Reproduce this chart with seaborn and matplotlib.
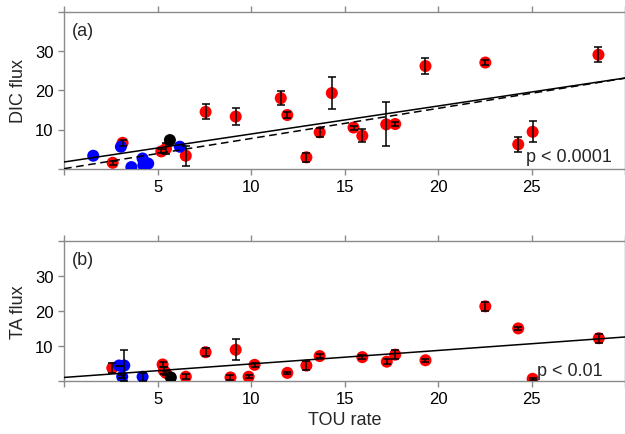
import numpy as np
import matplotlib
matplotlib.use("Agg")
import matplotlib.pyplot as plt
import seaborn as sns

# --- DATA ---
# panel (a): DIC flux vs TOU rate
dic_red_x = [2.6, 3.13, 5.2, 5.45, 6.51, 7.57, 9.18, 11.59, 11.94, 12.96, 13.67,
             14.32, 15.48, 15.95, 17.23, 17.71, 19.33, 22.53, 24.29, 25.06, 28.58]
dic_red_y = [1.5, 6.6, 4.4, 5.1, 3.3, 14.5, 13.3, 18.0, 13.7, 2.9, 9.3,
             19.3, 10.5, 8.4, 11.3, 11.4, 26.2, 27.1, 6.2, 9.4, 29.1]
dic_red_err = [0.5, 0.7, 0.5, 1.4, 2.5, 1.9, 2.2, 1.8, 0.7, 1.2, 1.2,
               4.1, 0.5, 1.7, 5.6, 0.5, 2.0, 0.6, 1.9, 2.7, 1.9]
dic_blue_x = [1.56, 3.04, 3.6, 4.2, 4.5, 4.24, 6.19]
dic_blue_y = [3.3, 5.6, 0.4, 2.6, 1.3, 0.9, 5.6]
dic_black_x = [5.66]
dic_black_y = [7.3]
dic_fit_solid = (1.7, 0.715)   # intercept, slope
dic_fit_dashed = (0.0, 0.77)

# panel (b): TA flux vs TOU rate
ta_red_x = [2.58, 5.27, 5.34, 5.45, 6.51, 7.57, 8.9, 9.18, 9.87, 10.19, 11.94,
            12.96, 13.67, 15.95, 17.26, 17.71, 19.33, 22.53, 24.29, 25.06, 28.6]
ta_red_y = [3.7, 4.7, 2.9, 2.3, 1.2, 8.2, 1.0, 8.9, 1.2, 4.6, 2.3,
            4.4, 7.1, 6.8, 5.5, 7.5, 5.9, 21.3, 15.0, 0.6, 12.2]
ta_red_err = [1.3, 0.8, 1.0, 0.5, 0.7, 1.2, 0.7, 3.0, 0.5, 0.5, 0.3,
              1.3, 0.5, 0.5, 0.8, 1.2, 0.4, 1.2, 0.5, 0.3, 1.3]
ta_blue_x = [2.94, 3.22, 3.11, 4.2]
ta_blue_y = [4.4, 4.4, 1.2, 1.2]
ta_blue_err = [0.0, 4.3, 0.5, 1.2]
ta_black_x = [5.71]
ta_black_y = [1.0]
ta_fit_solid = (1.0, 0.385)

x_ticks = [0, 5, 10, 15, 20, 25, 30]
x_ticklabels = ["", "5", "10", "15", "20", "25", ""]
y_ticks = [0, 10, 20, 30, 40]
y_ticklabels = ["", "10", "20", "30", ""]

sns.set_style("ticks")
plt.rcParams["font.family"] = ["Liberation Sans", "DejaVu Sans"]

GREY = "#8a8a8a"
MS = 75


def style_axis(ax):
    ax.set_xlim(0, 30)
    ax.set_ylim(0, 40)
    ax.set_xticks(x_ticks)
    ax.set_xticklabels(x_ticklabels)
    ax.set_yticks(y_ticks)
    ax.set_yticklabels(y_ticklabels)
    for side in ["top", "bottom", "left", "right"]:
        ax.spines[side].set_visible(True)
        ax.spines[side].set_color(GREY)
        ax.spines[side].set_linewidth(1.0)
    ax.tick_params(axis="both", direction="out", length=4.5, width=1.0,
                   color=GREY, labelsize=12, labelcolor="black", pad=3,
                   top=True, right=False)


def points(ax, x, y, color, err=None):
    sns.scatterplot(x=x, y=y, color=color, s=MS, edgecolor="none",
                    linewidth=0, ax=ax, zorder=3)
    if err is not None:
        ax.errorbar(x, y, yerr=err, fmt="none", ecolor="black",
                    elinewidth=1.1, capsize=3, capthick=1.1, zorder=4)


fig = plt.figure(figsize=(6.25, 4.35), dpi=100)
ax1 = fig.add_axes([0.1025, 0.610, 0.8975, 0.360])
ax2 = fig.add_axes([0.1025, 0.122, 0.8975, 0.322])

# (a)
points(ax1, dic_red_x, dic_red_y, "#ff0000", dic_red_err)
points(ax1, dic_blue_x, dic_blue_y, "#0000ff")
points(ax1, dic_black_x, dic_black_y, "black")
ax1.axline((0, dic_fit_solid[0]), slope=dic_fit_solid[1], color="black",
           lw=1.1, zorder=5)
ax1.axline((0, dic_fit_dashed[0]), slope=dic_fit_dashed[1], color="black",
           lw=1.1, ls=(0, (5, 3)), zorder=5)
style_axis(ax1)
ax1.set_ylabel("DIC flux", fontsize=13, labelpad=6)
ax1.text(0.014, 0.935, "(a)", transform=ax1.transAxes, fontsize=13,
         ha="left", va="top")
ax1.text(0.977, 0.05, "p < 0.0001", transform=ax1.transAxes, fontsize=13,
         ha="right", va="baseline")

# (b)
points(ax2, ta_red_x, ta_red_y, "#ff0000", ta_red_err)
points(ax2, ta_blue_x, ta_blue_y, "#0000ff", ta_blue_err)
points(ax2, ta_black_x, ta_black_y, "black")
ax2.axline((0, ta_fit_solid[0]), slope=ta_fit_solid[1], color="black",
           lw=1.1, zorder=5)
style_axis(ax2)
ax2.set_ylabel("TA flux", fontsize=13, labelpad=6)
ax2.set_xlabel("TOU rate", fontsize=13, labelpad=3)
ax2.text(0.014, 0.93, "(b)", transform=ax2.transAxes, fontsize=13,
         ha="left", va="top")
ax2.text(0.96, 0.045, "p < 0.01", transform=ax2.transAxes, fontsize=13,
         ha="right", va="baseline")

fig.savefig("out.png", dpi=100)
